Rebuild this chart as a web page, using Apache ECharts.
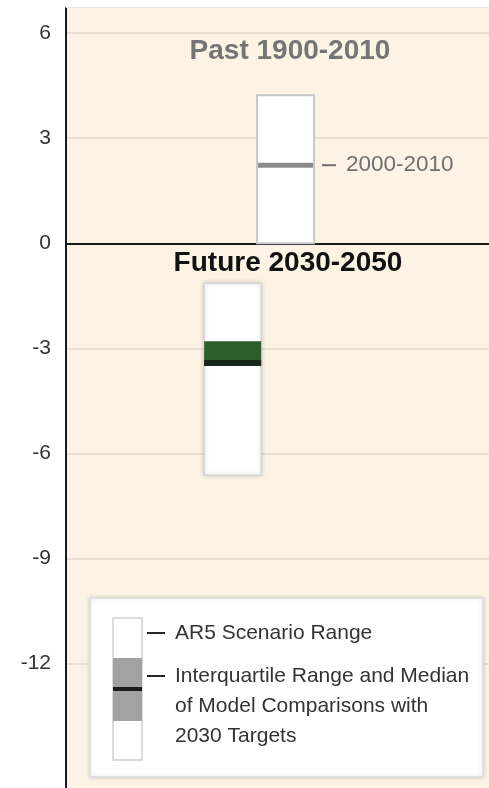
<!DOCTYPE html>
<html>
<head>
<meta charset="utf-8">
<script src="https://cdn.jsdelivr.net/npm/echarts@6/dist/echarts.min.js"></script>
<style>
  html, body { margin: 0; padding: 0; background: #fff; }
  #chart { width: 489px; height: 788px; }
</style>
</head>
<body>
<div id="chart"></div>
<script>
// data
const periods = ['Past 1900-2010', 'Future 2030-2050'];
const boxPos = [0.519, 0.394]; // horizontal place of each box in the plot (0..1)
const rangeLow = [0, -6.63];
const rangeHigh = [4.23, -1.14];
const iqrLow = [null, -3.5];
const iqrHigh = [null, -2.8];
const medians = [2.23, -3.42];
const medianLabels = ['2000-2010', ''];
const yTicks = [-12, -9, -6, -3, 0, 3, 6];
const legendLabels = ['AR5 Scenario Range', 'Interquartile Range and Median\nof Model Comparisons with\n2030 Targets'];

const FONT = 'Liberation Sans';
const BOX_HALF = 28.5;

const boxData = periods.map((p, i) => [boxPos[i], rangeLow[i], rangeHigh[i], iqrLow[i], iqrHigh[i], medians[i], i]);

const chart = echarts.init(document.getElementById('chart'), null, { renderer: 'canvas' });

function renderBox(params, api) {
  const i = api.value(6);
  const x = api.coord([api.value(0), 0])[0];
  const yLow = api.coord([0, api.value(1)])[1];
  const yHigh = api.coord([0, api.value(2)])[1];
  const yMed = api.coord([0, api.value(5)])[1];
  const children = [];
  const past = i === 0;
  children.push({
    type: 'rect',
    shape: { x: x - BOX_HALF, y: yHigh, width: BOX_HALF * 2, height: yLow - yHigh },
    style: {
      fill: '#ffffff',
      stroke: past ? '#c9c9c9' : '#d6d6d6',
      lineWidth: past ? 2 : 1.5,
      shadowBlur: past ? 0 : 4,
      shadowColor: 'rgba(0,0,0,0.18)'
    }
  });
  if (iqrLow[i] != null) {
    const yq1 = api.coord([0, api.value(3)])[1];
    const yq3 = api.coord([0, api.value(4)])[1];
    children.push({
      type: 'rect',
      shape: { x: x - BOX_HALF, y: yq3, width: BOX_HALF * 2, height: yq1 - yq3 },
      style: { fill: '#2c5d2c' }
    });
    children.push({
      type: 'rect',
      shape: { x: x - BOX_HALF, y: yMed - 3, width: BOX_HALF * 2, height: 6 },
      style: { fill: '#18261a' }
    });
  } else {
    children.push({
      type: 'rect',
      shape: { x: x - BOX_HALF + 1, y: yMed - 2.5, width: BOX_HALF * 2 - 2, height: 5 },
      style: { fill: '#8c8c8c' }
    });
  }
  if (medianLabels[i]) {
    children.push({
      type: 'line',
      shape: { x1: x + BOX_HALF + 8, y1: yMed, x2: x + BOX_HALF + 22, y2: yMed },
      style: { stroke: '#6f6f6f', lineWidth: 2 }
    });
    children.push({
      type: 'text',
      style: {
        x: x + BOX_HALF + 32, y: yMed, text: medianLabels[i],
        fill: '#6f6f6f', font: '22.5px "' + FONT + '"', textVerticalAlign: 'middle'
      }
    });
  }
  return { type: 'group', children: children };
}

function legendParts() {
  const parts = [
    {
      type: 'rect', shape: { x: 0, y: 0, width: 393, height: 179 },
      style: { fill: '#ffffff', stroke: '#dddddd', lineWidth: 1.5, shadowBlur: 4, shadowColor: 'rgba(0,0,0,0.15)' }
    },
    {
      type: 'rect', shape: { x: 23, y: 20, width: 29, height: 142 },
      style: { fill: '#ffffff', stroke: '#d0d0d0', lineWidth: 1.5 }
    },
    { type: 'rect', shape: { x: 23, y: 60, width: 29, height: 63 }, style: { fill: '#a2a2a2' } },
    { type: 'rect', shape: { x: 23, y: 89, width: 29, height: 4 }, style: { fill: '#1a1a1a' } },
    { type: 'line', shape: { x1: 57, y1: 35, x2: 75, y2: 35 }, style: { stroke: '#222', lineWidth: 2 } },
    { type: 'line', shape: { x1: 57, y1: 78, x2: 75, y2: 78 }, style: { stroke: '#222', lineWidth: 2 } },
    {
      type: 'text', x: 85, y: 35,
      style: { text: legendLabels[0], fill: '#333333', font: '21px "' + FONT + '"', verticalAlign: 'middle' }
    },
    {
      type: 'text', x: 85, y: 63,
      style: { text: legendLabels[1], fill: '#333333', font: '21px "' + FONT + '"', lineHeight: 30, verticalAlign: 'top' }
    }
  ];
  parts.forEach((p) => { p.z = 100; });
  return parts;
}

const option = {
  animation: false,
  backgroundColor: '#ffffff',
  grid: {
    left: 66, right: 0, top: 8, bottom: 0,
    show: true, backgroundColor: '#fdf3e5', borderWidth: 0
  },
  xAxis: { type: 'value', min: 0, max: 1, show: false },
  yAxis: {
    type: 'value',
    min: -15.56,
    max: 6.72,
    axisLine: { show: true, onZero: false, lineStyle: { color: '#1a1a1a', width: 2 } },
    axisTick: { show: false, customValues: yTicks },
    axisLabel: {
      customValues: yTicks,
      color: '#333333',
      fontFamily: FONT,
      fontSize: 21,
      margin: 15
    },
    splitLine: { show: true, lineStyle: { color: '#e2d8c8', width: 1.5 } }
  },
  series: [
    {
      type: 'custom',
      renderItem: renderBox,
      data: boxData,
      encode: { x: 0, y: [1, 2] },
      z: 5,
      markLine: {
        silent: true,
        symbol: 'none',
        label: { show: false },
        lineStyle: { color: '#1a1a1a', width: 2, type: 'solid' },
        data: [{ yAxis: 0 }]
      }
    }
  ],
  graphic: [
    {
      type: 'line', z: 1,
      shape: { x1: 66, y1: 7.5, x2: 489, y2: 7.5 },
      style: { stroke: '#e4e4ea', lineWidth: 1 }
    },
    {
      type: 'text', x: 290, y: 51,
      style: { text: periods[0], fill: '#757575', font: 'bold 28px "' + FONT + '"', align: 'center', verticalAlign: 'middle' }
    },
    {
      type: 'text', x: 288, y: 263,
      style: { text: periods[1], fill: '#111111', font: 'bold 28px "' + FONT + '"', align: 'center', verticalAlign: 'middle' }
    },
    {
      type: 'group', x: 90, y: 598,
      children: legendParts()
    }
  ]
};

chart.setOption(option);
</script>
</body>
</html>
